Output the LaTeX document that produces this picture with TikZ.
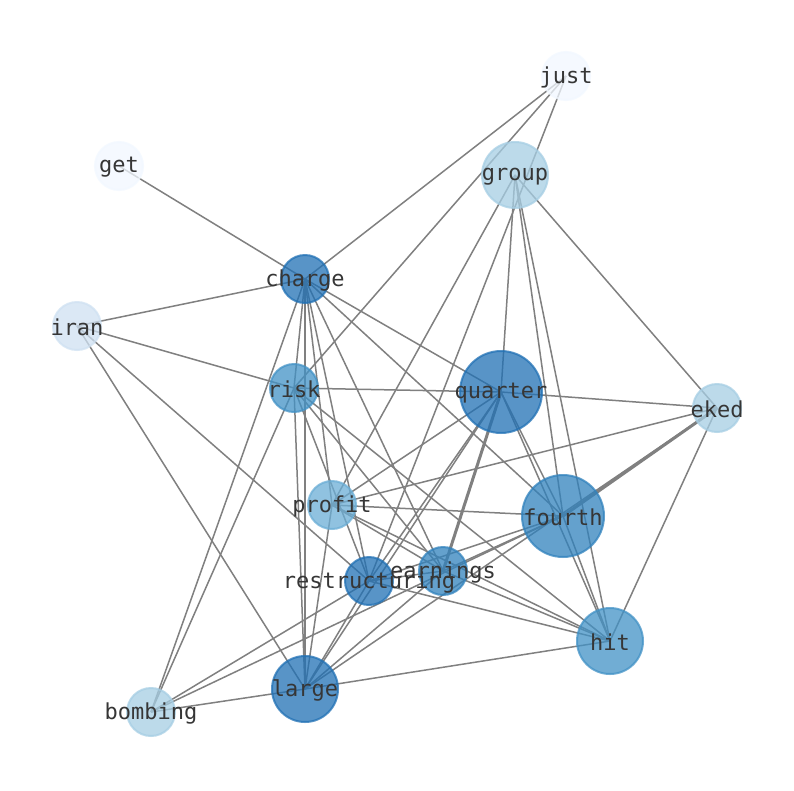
\documentclass[tikz,border=0pt]{standalone}
\usepackage{fontspec}
\setmonofont{DejaVu Sans Mono}
\definecolor{cA}{HTML}{2171B5}
\definecolor{cB}{HTML}{3182BD}
\definecolor{cC}{HTML}{4292C6}
\definecolor{cD}{HTML}{6BAED6}
\definecolor{cE}{HTML}{A6CEE4}
\definecolor{cF}{HTML}{CFE1F2}
\definecolor{cG}{HTML}{F2F8FF}
\definecolor{edgegray}{HTML}{808080}
\definecolor{txt}{HTML}{363636}
\pgfdeclarelayer{bg}
\pgfdeclarelayer{fg}
\pgfsetlayers{bg,main,fg}
\tikzset{
  vx/.style={circle, draw=#1, fill=#1, fill opacity=0.75, draw opacity=0.75, line width=2pt, inner sep=0pt},
  sm/.style={minimum size=48pt},
  md/.style={minimum size=66pt},
  lg/.style={minimum size=82pt},
  lbl/.style={text=txt, font=\ttfamily\fontsize{22}{22}\selectfont, inner sep=0pt, yshift=-1.5pt},
  ed/.style={draw=edgegray, line width=1.5pt},
  edw/.style={draw=edgegray, line width=3pt}
}
\begin{document}
\begin{tikzpicture}[x=1pt,y=-1pt]
\useasboundingbox (0,0) rectangle (794,790);
% nodes
\node[vx=cG, sm] (just) at (566,76) {};
\node[vx=cG, sm] (get) at (119,166) {};
\node[vx=cE, md] (group) at (515,175) {};
\node[vx=cA, sm] (charge) at (305,279) {};
\node[vx=cF, sm] (iran) at (77,326) {};
\node[vx=cC, sm] (risk) at (294,388) {};
\node[vx=cA, lg] (quarter) at (501,392) {};
\node[vx=cE, sm] (eked) at (717,408) {};
\node[vx=cD, sm] (profit) at (332,505) {};
\node[vx=cB, lg] (fourth) at (563,516) {};
\node[vx=cB, sm] (earnings) at (443,571) {};
\node[vx=cA, sm] (restructuring) at (369,581) {};
\node[vx=cC, md] (hit) at (610,641) {};
\node[vx=cA, md] (large) at (305,689) {};
\node[vx=cE, sm] (bombing) at (151,712) {};
% edges
\begin{pgfonlayer}{bg}
\fill[white] (0,0) rectangle (794,790);
\foreach \a/\b in {get/charge, just/charge, just/risk, just/restructuring,
  iran/charge, iran/risk, iran/large, iran/restructuring,
  charge/bombing, charge/risk, charge/large, charge/profit, charge/restructuring,
  charge/earnings, charge/fourth, charge/quarter,
  risk/quarter, risk/large, risk/bombing, risk/restructuring, risk/earnings, risk/hit,
  group/profit, group/quarter, group/fourth, group/hit, group/eked,
  quarter/eked, quarter/fourth, quarter/hit, quarter/restructuring, quarter/large, quarter/profit,
  eked/profit, eked/large, eked/hit,
  profit/fourth, profit/large, profit/earnings, profit/hit,
  fourth/earnings, fourth/restructuring, fourth/hit,
  earnings/hit, earnings/restructuring, restructuring/hit, restructuring/large,
  large/earnings, large/hit, large/bombing, bombing/restructuring, bombing/fourth}
  {\path[ed] (\a.center) -- (\b.center);}
\path[edw] (quarter.center) -- (earnings.center);
\path[edw] (eked.center) -- (fourth.center);
\end{pgfonlayer}
% labels
\begin{pgfonlayer}{fg}
\foreach \n in {just,get,group,charge,iran,risk,quarter,eked,profit,fourth,earnings,restructuring,hit,large,bombing}
  {\node[lbl] (\n-t) at (\n.center) {\n};}
\end{pgfonlayer}
\end{tikzpicture}
\end{document}
